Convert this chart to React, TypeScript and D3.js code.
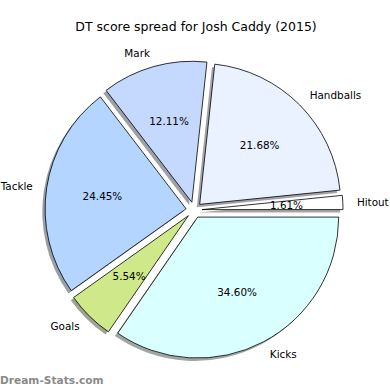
import React from 'react';
import * as d3 from 'd3';

const categories = ['Hitout', 'Handballs', 'Mark', 'Tackle', 'Goals', 'Kicks'];
const shares = [1.61, 21.68, 12.11, 24.45, 5.54, 34.6];
const sliceColors = ['#ffffff', '#eaf1ff', '#c5d9ff', '#b4d5ff', '#cfe98a', '#d9ffff'];

const W = 390;
const H = 390;
const cx = 194;
const cy = 210;
const radius = 141;
const explode = 8;
const font = 'DejaVu Sans, sans-serif';

// darkened, half transparent copy of the face colour, like matplotlib's shadow
const shadowColor = (c: string) => {
  const rgb = d3.rgb(c);
  return `rgba(${Math.round(rgb.r * 0.3)},${Math.round(rgb.g * 0.3)},${Math.round(rgb.b * 0.3)},0.5)`;
};

const App = () => {
  // starts at 3 o'clock and runs counter-clockwise
  const pie = d3
    .pie<number>()
    .sort(null)
    .startAngle(Math.PI / 2)
    .endAngle(Math.PI / 2 - 2 * Math.PI);
  const arcs = pie(shares);
  const arc = d3.arc<d3.PieArcDatum<number>>().innerRadius(0).outerRadius(radius);

  const slices = arcs.map((a, i) => {
    const mid = (a.startAngle + a.endAngle) / 2;
    const dx = Math.sin(mid);
    const dy = -Math.cos(mid);
    return {
      a,
      i,
      dx,
      dy,
      ox: cx + dx * explode,
      oy: cy + dy * explode,
    };
  });

  return (
    <svg
      width={W}
      height={H}
      style={{ position: 'absolute', left: 0, top: 0, background: '#fff' }}
    >
      <text
        x={196}
        y={26}
        textAnchor="middle"
        dominantBaseline="central"
        fontFamily={font}
        fontSize={12.5}
        fill="#000"
      >
        DT score spread for Josh Caddy (2015)
      </text>

      {slices.map((s) => (
        <path
          key={'sh' + s.i}
          d={arc(s.a) || ''}
          transform={`translate(${s.ox - 2.8},${s.oy + 2.8})`}
          fill={shadowColor(sliceColors[s.i])}
        />
      ))}

      {slices.map((s) => (
        <path
          key={'sl' + s.i}
          d={arc(s.a) || ''}
          transform={`translate(${s.ox},${s.oy})`}
          fill={sliceColors[s.i]}
          stroke="#000"
          strokeWidth={0.8}
          strokeLinejoin="round"
        />
      ))}

      {slices.map((s) => (
        <text
          key={'lb' + s.i}
          x={s.ox + s.dx * radius * 1.1}
          y={s.oy + s.dy * radius * 1.1}
          textAnchor={s.dx > 0 ? 'start' : 'end'}
          dominantBaseline="central"
          fontFamily={font}
          fontSize={10.4}
          fill="#000"
        >
          {categories[s.i]}
        </text>
      ))}

      {slices.map((s) => (
        <text
          key={'pc' + s.i}
          x={s.ox + s.dx * radius * 0.6}
          y={s.oy + s.dy * radius * 0.6}
          textAnchor="middle"
          dominantBaseline="central"
          fontFamily={font}
          fontSize={10.4}
          fill="#000"
        >
          {shares[s.i].toFixed(2)}%
        </text>
      ))}

      <text
        x={0}
        y={380}
        dominantBaseline="central"
        fontFamily={font}
        fontSize={10.6}
        fontWeight="bold"
        fill="#8a8a8a"
      >
        Dream-Stats.com
      </text>
    </svg>
  );
};

export default App;
